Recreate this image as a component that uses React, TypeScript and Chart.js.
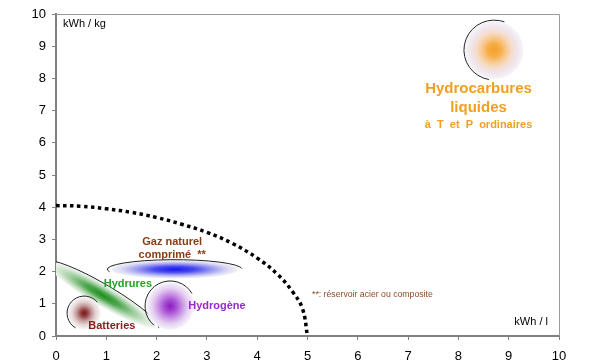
import React, { useEffect, useRef } from "react";
import { Chart, registerables } from "chart.js";

Chart.register(...registerables);

const FONT = '"Liberation Sans", Arial, sans-serif';

// Dotted limit curve (kWh/l, kWh/kg)
const limitX = [0, 0.5, 1, 1.5, 2, 2.5, 3, 3.5, 4, 4.4, 4.7, 4.9, 5];
const limitY = [4.05, 4.03, 3.95, 3.84, 3.68, 3.47, 3.22, 2.88, 2.42, 1.92, 1.38, 0.85, 0];

// Blobs: centre and half-extent in axis units
const blobNames = ["Hydrocarbures", "Gaz", "Hydrures", "Hydrogène", "Batteries"];
const blobX = [8.71, 2.36, 0.92, 2.27, 0.56];
const blobY = [8.88, 2.07, 1.27, 0.93, 0.71];
const blobRx = [0.6, 1.34, 1.12, 0.5, 0.34];
const blobRy = [0.93, 0.3, 0.38, 0.78, 0.53];

// Text labels
const labelTexts = [
  "Hydrocarbures",
  "liquides",
  "à  T  et  P  ordinaires",
  "Gaz naturel",
  "comprimé  **",
  "Hydrures",
  "Hydrogène",
  "Batteries",
  "**: réservoir acier ou composite",
  "kWh / l",
  "kWh / kg",
];
const labelX = [8.4, 8.4, 8.4, 2.31, 2.31, 1.43, 3.2, 1.11, 5.09, 9.78, 0.14];
const labelY = [7.67, 7.08, 6.55, 2.92, 2.52, 1.61, 0.93, 0.31, 1.3, 0.43, 9.69];

const xTicks = [0, 1, 2, 3, 4, 5, 6, 7, 8, 9, 10];
const yTicks = [0, 1, 2, 3, 4, 5, 6, 7, 8, 9, 10];

const blobStyles: Record<string, { stops: [number, string][]; arc: [number, number]; rot?: boolean }> = {
  Hydrocarbures: {
    stops: [[0, "#f4a02c"], [0.22, "#f6ae48"], [0.4, "#f8c88c"], [0.58, "#f6dcc8"], [0.78, "#efe6ee"], [0.95, "#f6f2f8"], [1, "rgba(255,255,255,0)"]],
    arc: [100, 290],
  },
  Gaz: {
    stops: [[0, "#1818f0"], [0.3, "#4848f0"], [0.55, "#9898f2"], [0.78, "#d8d8f4"], [0.92, "#eeeef6"], [1, "rgba(255,255,255,0)"]],
    arc: [165, 355],
  },
  Hydrures: {
    stops: [[0, "#1e8e1e"], [0.3, "#4ea84e"], [0.55, "#9ccc9c"], [0.78, "#d6e8d6"], [0.92, "#eef4ee"], [1, "rgba(255,255,255,0)"]],
    arc: [160, 360],
    rot: true,
  },
  "Hydrogène": {
    stops: [[0, "#8c1cc0"], [0.25, "#a850d4"], [0.5, "#cc98e6"], [0.72, "#e6d2f2"], [0.9, "#f2ecf8"], [1, "rgba(255,255,255,0)"]],
    arc: [130, 330],
  },
  Batteries: {
    stops: [[0, "#7c1414"], [0.22, "#984848"], [0.45, "#c49c9c"], [0.7, "#e6d8d8"], [0.9, "#f4eeee"], [1, "rgba(255,255,255,0)"]],
    arc: [120, 320],
  },
};

const labelStyles = [
  { font: `bold 15px ${FONT}`, color: "#f0a020", align: "center" },
  { font: `bold 15px ${FONT}`, color: "#f0a020", align: "center" },
  { font: `bold 11px ${FONT}`, color: "#f0a020", align: "center" },
  { font: `bold 11px ${FONT}`, color: "#8a3c14", align: "center" },
  { font: `bold 11px ${FONT}`, color: "#8a3c14", align: "center" },
  { font: `bold 11px ${FONT}`, color: "#28a028", align: "center" },
  { font: `bold 11px ${FONT}`, color: "#9a28c8", align: "center" },
  { font: `bold 11px ${FONT}`, color: "#8a1a1a", align: "center" },
  { font: `8.7px ${FONT}`, color: "#8a4a2a", align: "left" },
  { font: `11px ${FONT}`, color: "#000000", align: "right" },
  { font: `11px ${FONT}`, color: "#000000", align: "left" },
];

const blobPlugin = {
  id: "blobs",
  beforeDatasetsDraw(chart: any) {
    const { ctx, scales } = chart;
    const xs = scales.x;
    const ys = scales.y;
    const ca = chart.chartArea;
    ctx.save();
    ctx.beginPath();
    ctx.rect(ca.left, ca.top, ca.right - ca.left, ca.bottom - ca.top);
    ctx.clip();
    blobNames.forEach((name, i) => {
      const st = blobStyles[name];
      const cx = xs.getPixelForValue(blobX[i]);
      const cy = ys.getPixelForValue(blobY[i]);
      let rx: number, ry: number, ang = 0;
      if (st.rot) {
        const dx = xs.getPixelForValue(blobX[i] + blobRx[i]) - cx;
        const dy = ys.getPixelForValue(blobY[i] - blobRy[i] * 2.7) - cy;
        ang = Math.atan2(dy, dx);
        rx = Math.hypot(dx, dy);
        ry = 11;
      } else {
        rx = xs.getPixelForValue(blobX[i] + blobRx[i]) - cx;
        ry = cy - ys.getPixelForValue(blobY[i] + blobRy[i]);
      }
      ctx.save();
      ctx.translate(cx, cy);
      ctx.rotate(ang);
      ctx.scale(rx, ry);
      const g = ctx.createRadialGradient(0, 0, 0, 0, 0, 1);
      st.stops.forEach(([o, c]) => g.addColorStop(o, c));
      ctx.fillStyle = g;
      ctx.beginPath();
      ctx.arc(0, 0, 1, 0, Math.PI * 2);
      ctx.fill();
      ctx.beginPath();
      ctx.arc(0, 0, 1, (st.arc[0] * Math.PI) / 180, (st.arc[1] * Math.PI) / 180);
      ctx.restore();
      ctx.strokeStyle = "#222222";
      ctx.lineWidth = 1;
      ctx.stroke();
    });
    ctx.restore();
  },
  afterDraw(chart: any) {
    const { ctx, scales } = chart;
    const xs = scales.x;
    const ys = scales.y;
    const ca = chart.chartArea;
    ctx.save();
    ctx.strokeStyle = "#9a9a9a";
    ctx.lineWidth = 1;
    ctx.beginPath();
    ctx.moveTo(ca.left, ca.top + 0.5);
    ctx.lineTo(ca.right + 0.5, ca.top + 0.5);
    ctx.lineTo(ca.right + 0.5, ca.bottom);
    ctx.stroke();
    labelTexts.forEach((t, i) => {
      const s = labelStyles[i];
      ctx.font = s.font;
      ctx.fillStyle = s.color;
      ctx.textAlign = s.align as CanvasTextAlign;
      ctx.textBaseline = "middle";
      ctx.fillText(t, xs.getPixelForValue(labelX[i]), ys.getPixelForValue(labelY[i]));
    });
    ctx.restore();
  },
};

export default function App() {
  const ref = useRef<HTMLCanvasElement>(null);
  useEffect(() => {
    document.body.style.margin = "0";
    const canvas = ref.current!;
    const chart = new Chart(canvas, {
      type: "scatter",
      data: {
        datasets: [
          {
            data: limitX.map((x, i) => ({ x, y: limitY[i] })),
            showLine: true,
            tension: 0.4,
            borderColor: "#000000",
            borderWidth: 3.5,
            borderDash: [3.5, 3.5],
            borderCapStyle: "butt",
            pointRadius: 0,
            fill: false,
          },
        ],
      },
      options: {
        responsive: false,
        animation: false,
        layout: { padding: { top: 14, right: 38, left: 0, bottom: 0 } },
        plugins: { legend: { display: false }, tooltip: { enabled: false } },
        scales: {
          x: {
            type: "linear",
            min: 0,
            max: 10,
            afterFit(s: any) {
              s.height = 26;
            },
            afterBuildTicks(s: any) {
              s.ticks = xTicks.map((v) => ({ value: v }));
            },
            grid: { drawOnChartArea: false, drawTicks: true, tickLength: 4, color: "#808080" },
            border: { display: true, color: "#808080", width: 2 },
            ticks: { font: { family: FONT, size: 13 }, color: "#000000", padding: 9, maxRotation: 0 },
          },
          y: {
            type: "linear",
            min: 0,
            max: 10,
            afterFit(s: any) {
              s.width = 56;
            },
            afterBuildTicks(s: any) {
              s.ticks = yTicks.map((v) => ({ value: v }));
            },
            grid: { drawOnChartArea: false, drawTicks: true, tickLength: 4, color: "#808080" },
            border: { display: true, color: "#808080", width: 2 },
            ticks: { font: { family: FONT, size: 13 }, color: "#000000", padding: 6 },
          },
        },
      },
      plugins: [blobPlugin],
    });
    return () => chart.destroy();
  }, []);
  return (
    <div style={{ width: 597, height: 362 }}>
      <canvas ref={ref} width={597} height={362} style={{ display: "block" }} />
    </div>
  );
}
